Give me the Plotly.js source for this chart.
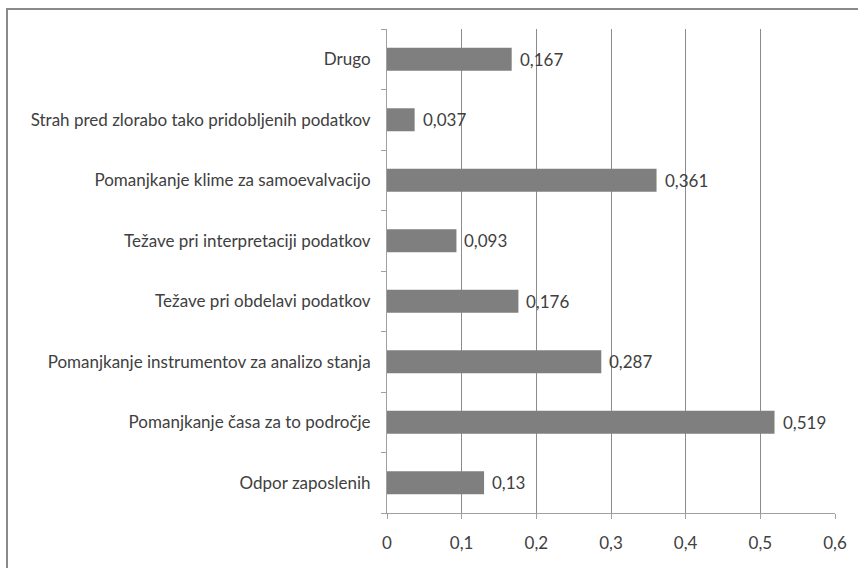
<!DOCTYPE html>
<html>
<head>
<meta charset="utf-8">
<script src="https://cdn.plot.ly/plotly-3.0.1.min.js"></script>
<style>
html,body{margin:0;padding:0;background:#fff;}
#wrap{position:relative;width:858px;height:568px;overflow:hidden;}
#chart{width:858px;height:568px;}
#frame{position:absolute;left:6px;top:8px;width:900px;height:600px;border:2px solid #8a8a8a;pointer-events:none;box-sizing:border-box;}
</style>
</head>
<body>
<div id="wrap">
<div id="chart"></div>
<div id="frame"></div>
</div>
<script>
const categories = [
  "Odpor zaposlenih",
  "Pomanjkanje časa za to področje",
  "Pomanjkanje instrumentov za analizo stanja",
  "Težave pri obdelavi podatkov",
  "Težave pri interpretaciji podatkov",
  "Pomanjkanje klime za samoevalvacijo",
  "Strah pred zlorabo tako pridobljenih podatkov",
  "Drugo"
];
const values = [0.13, 0.519, 0.287, 0.176, 0.093, 0.361, 0.037, 0.167];
const tickVals = [0, 0.1, 0.2, 0.3, 0.4, 0.5, 0.6];
const tickLabels = ["0", "0,1", "0,2", "0,3", "0,4", "0,5", "0,6"];

const fontFam = "Lato, 'Open Sans', sans-serif";
const fs = 17;
const labels = values.map(v => String(v).replace('.', ','));

const trace = {
  type: 'bar',
  orientation: 'h',
  x: values,
  y: categories,
  marker: {color: '#7f7f7f'},
  hoverinfo: 'none'
};

const annotations = values.map((v, i) => ({
  x: v, y: categories[i], xref: 'x', yref: 'y',
  text: labels[i], showarrow: false, xanchor: 'left', yanchor: 'middle',
  xshift: 6, font: {family: fontFam, size: fs, color: '#404040'}
}));

const layout = {
  width: 858, height: 568,
  margin: {l: 387, r: 23, t: 29, b: 55},
  paper_bgcolor: '#fff', plot_bgcolor: '#fff',
  showlegend: false,
  bargap: 0.62,
  font: {family: fontFam, size: fs, color: '#404040'},
  xaxis: {
    range: [0, 0.6], tickvals: tickVals, ticktext: tickLabels,
    showgrid: true, gridcolor: '#8c8c8c', gridwidth: 1,
    zeroline: false, showline: true, linecolor: '#a0a0a0', linewidth: 1,
    ticks: 'outside', ticklen: 5, tickcolor: '#a0a0a0',
    ticklabelstandoff: 10,
    tickfont: {family: fontFam, size: fs, color: '#404040'},
    fixedrange: true
  },
  yaxis: {
    type: 'category', categoryorder: 'array', categoryarray: categories,
    showgrid: false, zeroline: false, showline: true, linecolor: '#a0a0a0', linewidth: 1,
    ticks: 'outside', ticklen: 5, tickcolor: '#a0a0a0', tickson: 'boundaries',
    ticklabelstandoff: 12,
    tickfont: {family: fontFam, size: fs, color: '#404040'},
    fixedrange: true
  },
  annotations: annotations
};

Plotly.newPlot('chart', [trace], layout, {displayModeBar: false, staticPlot: true});
</script>
</body>
</html>
